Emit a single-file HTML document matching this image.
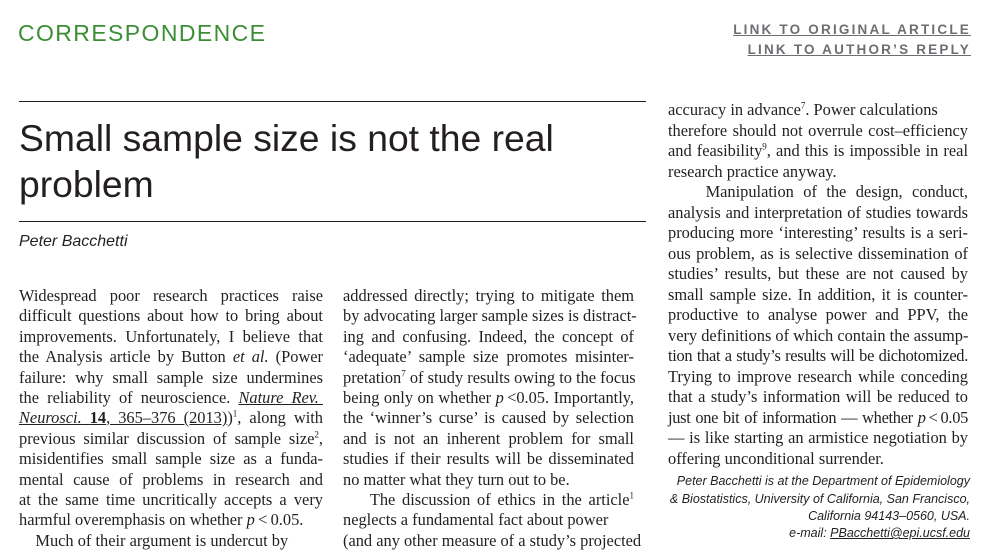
<!DOCTYPE html>
<html><head><meta charset="utf-8">
<style>
body{margin:0;width:999px;height:548px;overflow:hidden;background:#fff;position:relative;font-family:"Liberation Serif",serif;color:#231f20}
.l{position:absolute;font-size:16.4px;line-height:20px;white-space:nowrap;text-align:justify;text-align-last:justify}
.l.e{text-align-last:left}
.t{letter-spacing:-0.3px}
.c1{left:19px;width:304px}
.c2{left:343px;width:291px}
.c3{left:668px;width:300px}
a{color:#231f20}
.hdr{position:absolute;left:18px;top:20px;font-family:"Liberation Sans",sans-serif;font-size:23px;letter-spacing:1.4px;color:#3a8f35}
.lk{position:absolute;right:28px;font-family:"Liberation Sans",sans-serif;font-weight:bold;font-size:13.5px;letter-spacing:2.2px;color:#6d6e71;text-decoration:underline}
.rule{position:absolute;left:19px;width:627px;height:1px;background:#231f20}
.title{position:absolute;left:19px;top:115px;font-family:"Liberation Sans",sans-serif;font-size:37.3px;line-height:46px;color:#231f20}
.auth{position:absolute;left:19px;top:233px;font-family:"Liberation Sans",sans-serif;font-style:italic;font-size:16px}
.aff{position:absolute;right:29px;font-family:"Liberation Sans",sans-serif;font-style:italic;font-size:12.5px;line-height:17px;text-align:right;white-space:nowrap}
.i{font-style:italic}
sup{font-size:9px;line-height:0}
</style></head><body>
<div class="hdr">CORRESPONDENCE</div>
<div class="lk" style="top:22px">LINK TO ORIGINAL ARTICLE</div>
<div class="lk" style="top:42px">LINK TO AUTHOR’S REPLY</div>
<div class="rule" style="top:101px"></div>
<div class="title">Small sample size is not the real<br>problem</div>
<div class="rule" style="top:221px"></div>
<div class="auth">Peter Bacchetti</div>

<div>
<div class="l c1" style="top:286px">Widespread poor research practices raise</div>
<div class="l c1" style="top:306px">difficult questions about how to bring about</div>
<div class="l c1" style="top:327px">improvements. Unfortunately, I believe that</div>
<div class="l c1" style="top:347px">the Analysis article by Button <span class="i">et al.</span> (Power</div>
<div class="l c1" style="top:368px">failure: why small sample size undermines</div>
<div class="l c1" style="top:388px">the reliability of neuroscience. <a class="i" href="#">Nature Rev.&nbsp;</a></div>
<div class="l c1" style="top:408px"><a href="#"><span class="i">Neurosci.</span> <b>14</b>, 365–376 (2013)</a>)<sup>1</sup>, along with</div>
<div class="l c1" style="top:429px">previous similar discussion of sample size<sup>2</sup>,</div>
<div class="l c1" style="top:449px">misidentifies small sample size as a funda-</div>
<div class="l c1" style="top:470px">mental cause of problems in research and</div>
<div class="l c1" style="top:490px">at the same time uncritically accepts a very</div>
<div class="l c1 e" style="top:510px">harmful overemphasis on whether <span class="i">p</span>&thinsp;&lt;&thinsp;0.05.</div>
<div class="l c1 e" style="top:531px">&nbsp;&nbsp;&nbsp;&nbsp;Much of their argument is undercut by</div>
</div>

<div>
<div class="l c2" style="top:286px">addressed directly; trying to mitigate them</div>
<div class="l c2" style="top:306px">by advocating larger sample sizes is distract-</div>
<div class="l c2" style="top:327px">ing and confusing. Indeed, the concept of</div>
<div class="l c2" style="top:347px">‘adequate’ sample size promotes misinter-</div>
<div class="l c2" style="top:368px">pretation<sup>7</sup> of study results owing to the focus</div>
<div class="l c2" style="top:388px">being only on whether <span class="i">p</span>&thinsp;&lt;0.05. Importantly,</div>
<div class="l c2" style="top:408px">the ‘winner’s curse’ is caused by selection</div>
<div class="l c2" style="top:429px">and is not an inherent problem for small</div>
<div class="l c2" style="top:449px">studies if their results will be disseminated</div>
<div class="l c2 e" style="top:470px">no matter what they turn out to be.</div>
<div class="l c2" style="top:490px">&nbsp;&nbsp;&nbsp;&nbsp;The discussion of ethics in the article<sup>1</sup></div>
<div class="l c2 e" style="top:510px">neglects a fundamental fact about power</div>
<div class="l c2" style="top:531px">(and any other measure of a study’s projected</div>
</div>

<div>
<div class="l c3 e" style="top:100px">accuracy in advance<sup>7</sup>. Power calculations</div>
<div class="l c3" style="top:121px">therefore should not overrule cost–efficiency</div>
<div class="l c3" style="top:141px">and feasibility<sup>9</sup>, and this is impossible in real</div>
<div class="l c3 e" style="top:162px">research practice anyway.</div>
<div class="l c3" style="top:182px">&nbsp;&nbsp;&nbsp;&nbsp;Manipulation of the design, conduct,</div>
<div class="l c3" style="top:203px">analysis and interpretation of studies towards</div>
<div class="l c3" style="top:223px">producing more ‘interesting’ results is a seri-</div>
<div class="l c3" style="top:244px">ous problem, as is selective dissemination of</div>
<div class="l c3" style="top:264px">studies’ results, but these are not caused by</div>
<div class="l c3" style="top:285px">small sample size. In addition, it is counter-</div>
<div class="l c3" style="top:305px">productive to analyse power and PPV, the</div>
<div class="l c3" style="top:326px">very definitions of which contain the assump-</div>
<div class="l c3 t" style="top:346px">tion that a study’s results will be dichotomized.</div>
<div class="l c3" style="top:367px">Trying to improve research while conceding</div>
<div class="l c3" style="top:387px">that a study’s information will be reduced to</div>
<div class="l c3 t" style="top:408px">just one bit of information — whether <span class="i">p</span>&thinsp;&lt;&thinsp;0.05</div>
<div class="l c3" style="top:428px">— is like starting an armistice negotiation by</div>
<div class="l c3 e" style="top:449px">offering unconditional surrender.</div>
</div>

<div>
<div class="aff" style="top:473px"><i>Peter Bacchetti is at the Department of Epidemiology</i></div>
<div class="aff" style="top:491px">&amp; Biostatistics, University of California, San Francisco,</div>
<div class="aff" style="top:508px">California 94143–0560, USA.</div>
<div class="aff" style="top:525px">e-mail: <a href="#">PBacchetti@epi.ucsf.edu</a></div>
</div>
</body></html>
